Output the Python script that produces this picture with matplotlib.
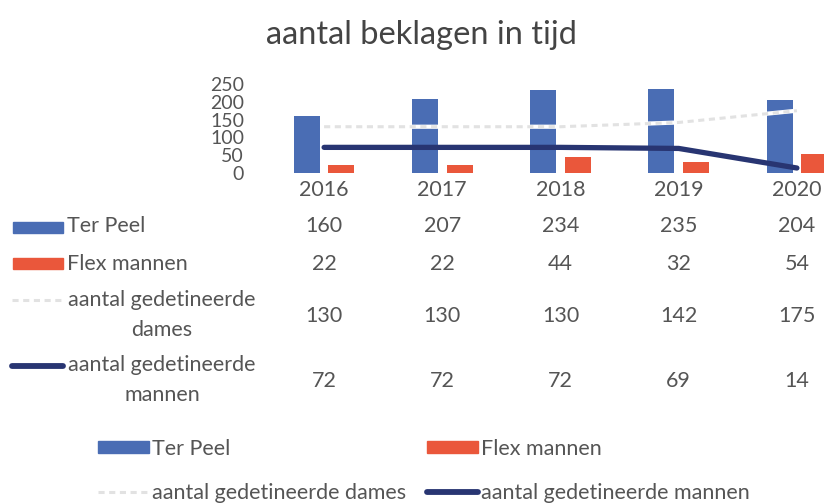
import matplotlib
matplotlib.use("Agg")
import matplotlib.pyplot as plt
import matplotlib.transforms as mtransforms
from matplotlib.patches import Rectangle
from matplotlib.lines import Line2D
import numpy as np

plt.rcParams['font.family'] = ['Lato', 'DejaVu Sans']

years = ["2016", "2017", "2018", "2019", "2020"]
ter_peel = [160, 207, 234, 235, 204]
flex_mannen = [22, 22, 44, 32, 54]
dames = [130, 130, 130, 142, 175]
mannen = [72, 72, 72, 69, 14]
yticks = [0, 50, 100, 150, 200, 250]

BLUE = "#4a6db4"
ORANGE = "#ea573b"
NAVY = "#283572"
LIGHT = "#e2e2e2"
TXT = "#555555"
FS = 15.5

W, H = 824, 503
fig = plt.figure(figsize=(W / 100, H / 100), dpi=100)
fig.patch.set_facecolor("white")

def fx(px):
    return px / W

def fy(py):
    return 1 - py / H

ax = fig.add_axes([fx(265), fy(173), fx(591), 89 / H])
x = np.arange(len(years))
bw = 0.22
ax.bar(x - 0.147, ter_peel, width=bw, color=BLUE, zorder=2, label="Ter Peel")
ax.bar(x + 0.147, flex_mannen, width=bw, color=ORANGE, zorder=2, label="Flex mannen")
ax.plot(x, dames, color="white", lw=3, zorder=3, solid_capstyle="butt")
ax.plot(x, dames, color=LIGHT, lw=2.2, ls=(0, (2, 1.5)), zorder=3.1)
ax.plot(x, mannen, color=NAVY, lw=3.8, zorder=4, solid_capstyle="round")

ax.set_xlim(-0.5, len(years) - 0.5)
ax.set_ylim(0, 250)
ax.set_yticks(yticks)
ax.set_yticklabels([str(v) for v in yticks], fontsize=14, color=TXT)
ax.set_xticks(x)
ax.set_xticklabels(years, fontsize=FS, color=TXT)
ax.tick_params(axis="both", length=0)
ax.tick_params(axis="y", pad=15)
ax.tick_params(axis="x", pad=5)
for s in ax.spines.values():
    s.set_visible(False)
ax.set_facecolor("none")

fig.text(fx(421), fy(35), "aantal beklagen in tijd", fontsize=23.5, color="#444444",
         ha="center", va="center")

# data table
trans = mtransforms.blended_transform_factory(ax.transData, fig.transFigure)
rows = [(ter_peel, 226), (flex_mannen, 264), (dames, 316), (mannen, 381)]
for vals, py in rows:
    for i, v in enumerate(vals):
        fig.text(x[i], fy(py), str(v), transform=trans, fontsize=FS, color=TXT,
                 ha="center", va="center")

# row labels with keys
fig.add_artist(Rectangle((fx(13), fy(233)), fx(50), 11 / H, transform=fig.transFigure,
                         color=BLUE))
fig.text(fx(67), fy(226), "Ter Peel", fontsize=FS, color=TXT, ha="left", va="center")
fig.add_artist(Rectangle((fx(13), fy(269)), fx(50), 11 / H, transform=fig.transFigure,
                         color=ORANGE))
fig.text(fx(67), fy(264), "Flex mannen", fontsize=FS, color=TXT, ha="left", va="center")
fig.add_artist(Line2D([fx(12), fx(64)], [fy(300), fy(300)], transform=fig.transFigure,
                      color=LIGHT, lw=2.2, ls=(0, (2, 1.5))))
fig.text(fx(162), fy(315), "aantal gedetineerde\ndames", fontsize=FS, color=TXT,
         ha="center", va="center", multialignment="center", linespacing=1.6)
fig.add_artist(Line2D([fx(12), fx(63)], [fy(366), fy(366)], transform=fig.transFigure,
                      color=NAVY, lw=4.2, solid_capstyle="round"))
fig.text(fx(162), fy(380), "aantal gedetineerde\nmannen", fontsize=FS, color=TXT,
         ha="center", va="center", multialignment="center", linespacing=1.6)

# bottom legend
h_tp = Rectangle((0, 0), 1, 1, color=BLUE)
h_fm = Rectangle((0, 0), 1, 1, color=ORANGE)
h_da = Line2D([], [], color=LIGHT, lw=2.2, ls=(0, (2, 1.5)))
h_ma = Line2D([], [], color=NAVY, lw=4.2, solid_capstyle="round")
leg = fig.legend([h_tp, h_da, h_fm, h_ma],
                 ["Ter Peel", "aantal gedetineerde dames", "Flex mannen",
                  "aantal gedetineerde mannen"],
                 ncol=2, loc="center", bbox_to_anchor=(fx(424), fy(471)),
                 frameon=False, fontsize=FS, handlelength=2.35, handletextpad=0.15,
                 columnspacing=1.0, labelspacing=1.15, handleheight=0.55)
for t in leg.get_texts():
    t.set_color(TXT)

fig.savefig("out.png", dpi=100, facecolor="white")
